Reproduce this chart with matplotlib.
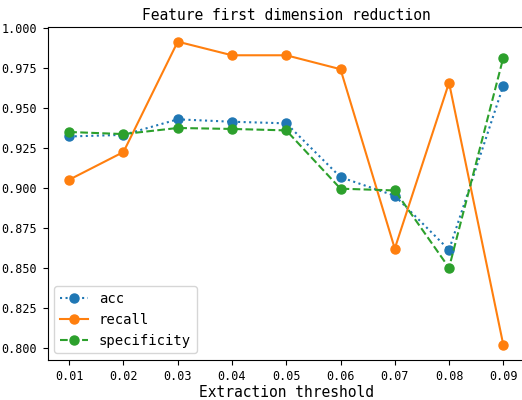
import matplotlib
matplotlib.use("Agg")
import matplotlib.pyplot as plt

thresholds = [0.01, 0.02, 0.03, 0.04, 0.05, 0.06, 0.07, 0.08, 0.09]
acc = [0.932, 0.933, 0.9427, 0.9412, 0.9402, 0.9066, 0.895, 0.8612, 0.9637]
recall = [0.905, 0.9223, 0.9912, 0.9827, 0.9827, 0.974, 0.862, 0.9656, 0.8019]
specificity = [0.9348, 0.9335, 0.9373, 0.9367, 0.9358, 0.8994, 0.8983, 0.850, 0.9812]

plt.rcParams['font.family'] = ['DejaVu Sans Mono']

fig = plt.figure(figsize=(5.22, 4.0), dpi=100)
ax = fig.add_axes([47.5/522, 40/400, (525-47.5)/522, (360-26.5)/400])
ax.plot(thresholds, acc, 'o:', label='acc', color='#1f77b4', markersize=6.5)
ax.plot(thresholds, recall, 'o-', label='recall', color='#ff7f0e', markersize=6.5)
ax.plot(thresholds, specificity, 'o--', label='specificity', color='#2ca02c', markersize=6.5)
ax.set_xticks(thresholds)
ax.set_xticklabels([f"{t:.2f}" for t in thresholds])
ax.tick_params(labelsize=8.5, pad=4)
ax.set_title('Feature first dimension reduction', fontsize=10.5, pad=5)
ax.set_xlabel('Extraction threshold', fontsize=10.5, labelpad=1)
ax.legend(loc='lower left', fontsize=10)
fig.savefig('out.png', dpi=100)
